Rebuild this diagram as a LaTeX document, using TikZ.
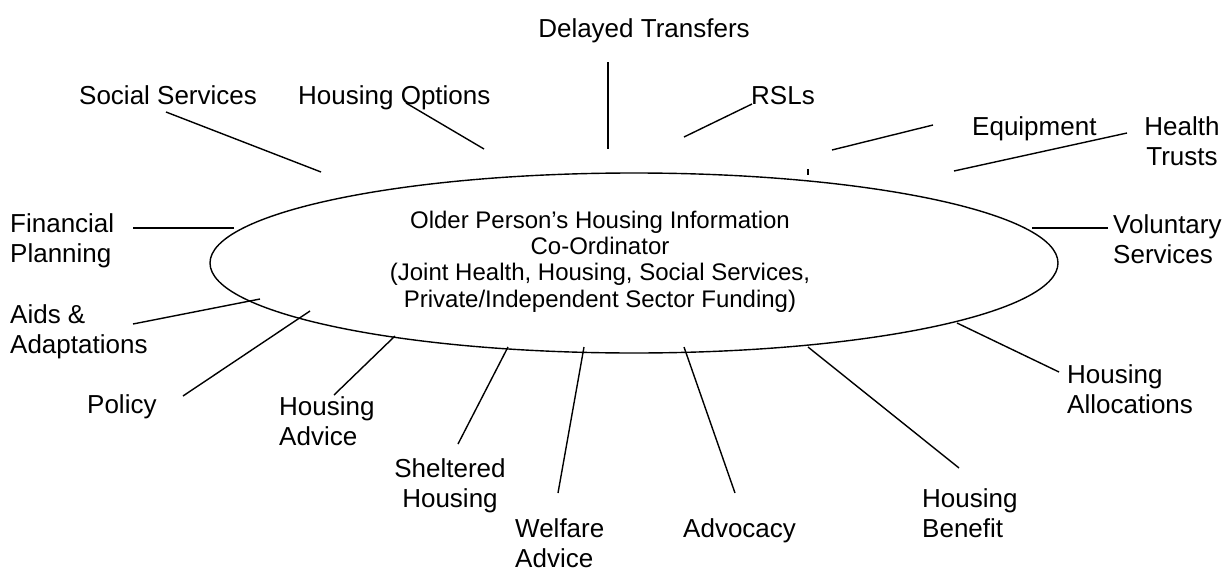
\documentclass[tikz,border=0pt]{standalone}
\usepackage{fontspec}
\setmainfont{Liberation Sans}
\usetikzlibrary{shapes.geometric}
\begin{document}
\begin{tikzpicture}[x=1pt,y=-1pt,
  lbl/.style={inner sep=0pt, font=\fontsize{26}{30}\selectfont},
  lblL/.style={lbl, align=left, anchor=base west},
  lblC/.style={lbl, align=center, anchor=base},
  spoke/.style={line width=1.4pt},
  hubshape/.style={draw, ellipse, line width=1.4pt, inner sep=0pt, minimum width=848pt, minimum height=180pt}]
\useasboundingbox (0,0) rectangle (1227,570);
% hub (base anchor of a multi-line node = last line's baseline)
\node[hubshape] (hub) at (634,263) {};
\node[inner sep=0pt, align=center, anchor=base, font=\fontsize{24}{26.3}\selectfont] (hubtext) at (600,307)
  {Older Person’s Housing Information\\Co-Ordinator\\(Joint Health, Housing, Social Services,\\Private/Independent Sector Funding)};
% labels
\node[lblC] (dt) at (644,37) {Delayed Transfers};
\node[lblL] (ss) at (79,104) {Social Services};
\node[lblL] (ho) at (298,104) {Housing Options};
\node[lblL] (rsl) at (751,104) {RSLs};
\node[lblL] (eq) at (972,135) {Equipment};
\node[lblC] (ht) at (1182,165) {Health\\Trusts};
\node[lblL] (fp) at (10,262) {Financial\\Planning};
\node[lblL] (vs) at (1113,263) {Voluntary\\Services};
\node[lblL] (aa) at (10,353) {Aids \&\\Adaptations};
\node[lblL] (po) at (87,413) {Policy};
\node[lblL] (had) at (279,445) {Housing\\Advice};
\node[lblC] (sh) at (450,507) {Sheltered\\Housing};
\node[lblL] (wa) at (515,567) {Welfare\\Advice};
\node[lblL] (adv) at (683,537) {Advocacy};
\node[lblL] (hb) at (922,537) {Housing\\Benefit};
\node[lblL] (hal) at (1067,413) {Housing\\Allocations};
% connector end points
\coordinate (dt1) at (608,62);   \coordinate (dt2) at (608,149);
\coordinate (ss1) at (166,112);  \coordinate (ss2) at (321,172);
\coordinate (ho1) at (406,103);  \coordinate (ho2) at (484,149);
\coordinate (rsl1) at (752,104); \coordinate (rsl2) at (684,137);
\coordinate (eq1) at (933,125);  \coordinate (eq2) at (832,150);
\coordinate (tk1) at (808,169);  \coordinate (tk2) at (808,175);
\coordinate (ht1) at (1127,133); \coordinate (ht2) at (954,171);
\coordinate (fp1) at (133,228);  \coordinate (fp2) at (234,228);
\coordinate (vs1) at (1108,228); \coordinate (vs2) at (1032,228);
\coordinate (aa1) at (133,324);  \coordinate (aa2) at (260,299);
\coordinate (po1) at (183,396);  \coordinate (po2) at (310,311);
\coordinate (had1) at (334,395); \coordinate (had2) at (395,336);
\coordinate (sh1) at (458,444);  \coordinate (sh2) at (508,347);
\coordinate (wa1) at (558,493);  \coordinate (wa2) at (584,347);
\coordinate (adv1) at (735,493); \coordinate (adv2) at (684,347);
\coordinate (hb1) at (959,468);  \coordinate (hb2) at (808,347);
\coordinate (hal1) at (1059,372); \coordinate (hal2) at (957,323);
% connectors
\foreach \n in {dt,ss,ho,rsl,eq,tk,ht,fp,vs,aa,po,had,sh,wa,adv,hb,hal}
  \draw[spoke] (\n1) -- (\n2);
\end{tikzpicture}
\end{document}
